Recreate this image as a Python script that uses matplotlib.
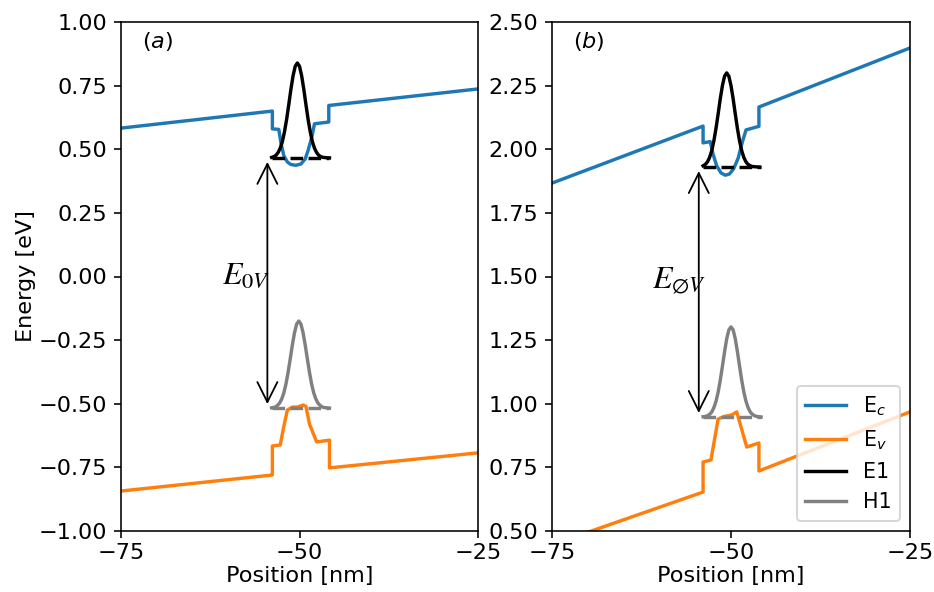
import matplotlib
matplotlib.use("Agg")
import matplotlib.pyplot as plt
from matplotlib.ticker import MultipleLocator
from matplotlib.lines import Line2D

# ---------------- data ----------------
# Panel (a)
ec_a_x = [-75, -53.8, -53.8, -52.9, -52.6, -52.2, -51.7, -51.2, -50.5, -49.8, -49.2,
          -48.8, -48.3, -47.9, -45.9, -45.9, -25]
ec_a_y = [0.583, 0.650, 0.580, 0.578, 0.525, 0.475, 0.450, 0.440, 0.437, 0.442, 0.462,
          0.495, 0.545, 0.600, 0.607, 0.672, 0.737]
ev_a_x = [-75, -53.8, -53.8, -52.7, -52.2, -51.7, -51.0, -50.3, -49.5, -49.1, -48.6,
          -47.6, -45.8, -45.8, -25]
ev_a_y = [-0.843, -0.780, -0.666, -0.662, -0.590, -0.525, -0.513, -0.513, -0.505, -0.510,
          -0.580, -0.650, -0.643, -0.752, -0.693]
e1_a_x = [-53.9, -53.6, -53.3, -53.0, -52.7, -52.4, -52.1, -51.8, -51.5, -51.2, -50.9,
          -50.6, -50.3, -50.0, -49.7, -49.4, -49.1, -48.8, -48.5, -48.2, -47.9, -47.6,
          -47.3, -47.0, -46.7, -46.3, -45.8]
e1_a_y = [0.468, 0.471, 0.476, 0.487, 0.504, 0.530, 0.569, 0.618, 0.676, 0.736, 0.789,
          0.826, 0.839, 0.826, 0.789, 0.736, 0.676, 0.618, 0.569, 0.530, 0.504, 0.487,
          0.476, 0.471, 0.468, 0.467, 0.466]
e1_a_level = 0.466
h1_a_x = [-53.9, -53.7, -53.4, -53.1, -52.8, -52.5, -52.2, -51.9, -51.6, -51.3, -51.0,
          -50.7, -50.4, -50.1, -49.8, -49.5, -49.2, -48.9, -48.6, -48.3, -48.0, -47.7,
          -47.4, -47.1, -46.8, -46.5, -46.1, -45.8]
h1_a_y = [-0.516, -0.515, -0.513, -0.507, -0.498, -0.482, -0.458, -0.423, -0.377, -0.324,
          -0.269, -0.221, -0.187, -0.175, -0.187, -0.221, -0.269, -0.324, -0.377, -0.423,
          -0.458, -0.482, -0.498, -0.507, -0.513, -0.515, -0.516, -0.517]
h1_a_level = -0.517

# Panel (b)
ec_b_x = [-75, -53.9, -53.9, -52.9, -52.5, -52.0, -51.4, -50.8, -50.2, -49.6, -49.0,
          -48.4, -47.9, -46.1, -46.1, -25]
ec_b_y = [1.867, 2.091, 2.025, 2.030, 1.980, 1.935, 1.907, 1.898, 1.903, 1.925, 1.965,
          2.030, 2.076, 2.090, 2.166, 2.398]
ev_b_x = [-75, -53.9, -53.9, -52.8, -51.8, -51.0, -49.9, -49.2, -47.8, -46.1, -46.1, -25]
ev_b_y = [0.446, 0.653, 0.771, 0.779, 0.940, 0.950, 0.956, 0.968, 0.830, 0.846, 0.736, 0.968]
e1_b_x = [-53.9, -53.6, -53.3, -53.0, -52.7, -52.4, -52.1, -51.8, -51.5, -51.2, -50.9,
          -50.6, -50.3, -50.0, -49.7, -49.4, -49.1, -48.8, -48.5, -48.2, -47.9, -47.6,
          -47.3, -47.0, -46.6, -46.0]
e1_b_y = [1.935, 1.940, 1.950, 1.967, 1.994, 2.032, 2.081, 2.138, 2.198, 2.250, 2.287,
          2.300, 2.287, 2.250, 2.198, 2.138, 2.081, 2.032, 1.994, 1.967, 1.950, 1.940,
          1.935, 1.932, 1.931, 1.930]
e1_b_level = 1.930
h1_b_x = [-53.9, -53.6, -53.3, -53.0, -52.7, -52.4, -52.1, -51.8, -51.5, -51.2, -50.9,
          -50.6, -50.3, -50.0, -49.7, -49.4, -49.1, -48.8, -48.5, -48.2, -47.9, -47.6,
          -47.3, -47.0, -46.7, -46.4, -46.0, -45.8]
h1_b_y = [0.949, 0.950, 0.953, 0.958, 0.967, 0.984, 1.009, 1.045, 1.092, 1.147, 1.204,
          1.255, 1.290, 1.302, 1.290, 1.255, 1.204, 1.147, 1.092, 1.045, 1.009, 0.984,
          0.967, 0.958, 0.953, 0.950, 0.949, 0.948]
h1_b_level = 0.948

level_x = [-53.9, -45.8]
arrow_x = -54.5
xticks = [-75, -50, -25]
ylim_a = (-1.0, 1.0)
ylim_b = (0.5, 2.5)
legend_labels = ["E$_c$", "E$_v$", "E1", "H1"]

# ---------------- plotting ----------------
C_EC = "#1f77b4"
C_EV = "#ff7f0e"
C_E1 = "black"
C_H1 = "gray"
LW = 1.7

plt.rcParams["font.size"] = 11.2

fig = plt.figure(figsize=(934 / 144, 592 / 144), dpi=144)
ax1 = fig.add_axes([121 / 934, 1 - 531 / 592, 357 / 934, 509 / 592])
ax2 = fig.add_axes([552 / 934, 1 - 531 / 592, 358 / 934, 509 / 592])


def draw(ax, ecx, ecy, evx, evy, e1x, e1y, e1l, h1x, h1y, h1l, ylim, tag, label_txt, label_pos):
    ax.plot(ecx, ecy, color=C_EC, lw=LW)
    ax.plot(evx, evy, color=C_EV, lw=LW)
    ax.plot(level_x, [e1l, e1l], color=C_E1, lw=LW, ls="--")
    ax.plot(e1x, e1y, color=C_E1, lw=LW)
    ax.plot(level_x, [h1l, h1l], color=C_H1, lw=LW, ls="--")
    ax.plot(h1x, h1y, color=C_H1, lw=LW)
    ax.annotate("", xy=(arrow_x, e1l), xytext=(arrow_x, h1l),
                arrowprops=dict(arrowstyle="<->", lw=0.9, color="black", mutation_scale=25))
    ax.text(label_pos[0], label_pos[1], label_txt, fontsize=16, math_fontfamily="stix",
            ha="left", va="baseline")
    ax.text(-72.0, ylim[0] + 0.961 * (ylim[1] - ylim[0]), tag, fontsize=11.2,
            ha="left", va="center")
    ax.set_xlim(-75, -25)
    ax.set_ylim(*ylim)
    ax.set_xticks(xticks)
    ax.yaxis.set_major_locator(MultipleLocator(0.25))
    ax.tick_params(axis="x", pad=2.5)
    ax.set_xlabel("Position [nm]", labelpad=1.5)


draw(ax1, ec_a_x, ec_a_y, ev_a_x, ev_a_y, e1_a_x, e1_a_y, e1_a_level,
     h1_a_x, h1_a_y, h1_a_level, ylim_a, "$(a)$", r"$E_{0V}$", (-60.9, -0.03))
draw(ax2, ec_b_x, ec_b_y, ev_b_x, ev_b_y, e1_b_x, e1_b_y, e1_b_level,
     h1_b_x, h1_b_y, h1_b_level, ylim_b, "$(b)$", r"$E_{\emptyset V}$", (-61.0, 1.455))
ax1.set_ylabel("Energy [eV]", labelpad=1.5)

handles = [Line2D([], [], color=c, lw=LW) for c in (C_EC, C_EV, C_E1, C_H1)]
ax2.legend(handles, legend_labels, loc="lower right", fontsize=10.3)

fig.savefig("out.png", dpi=144)
